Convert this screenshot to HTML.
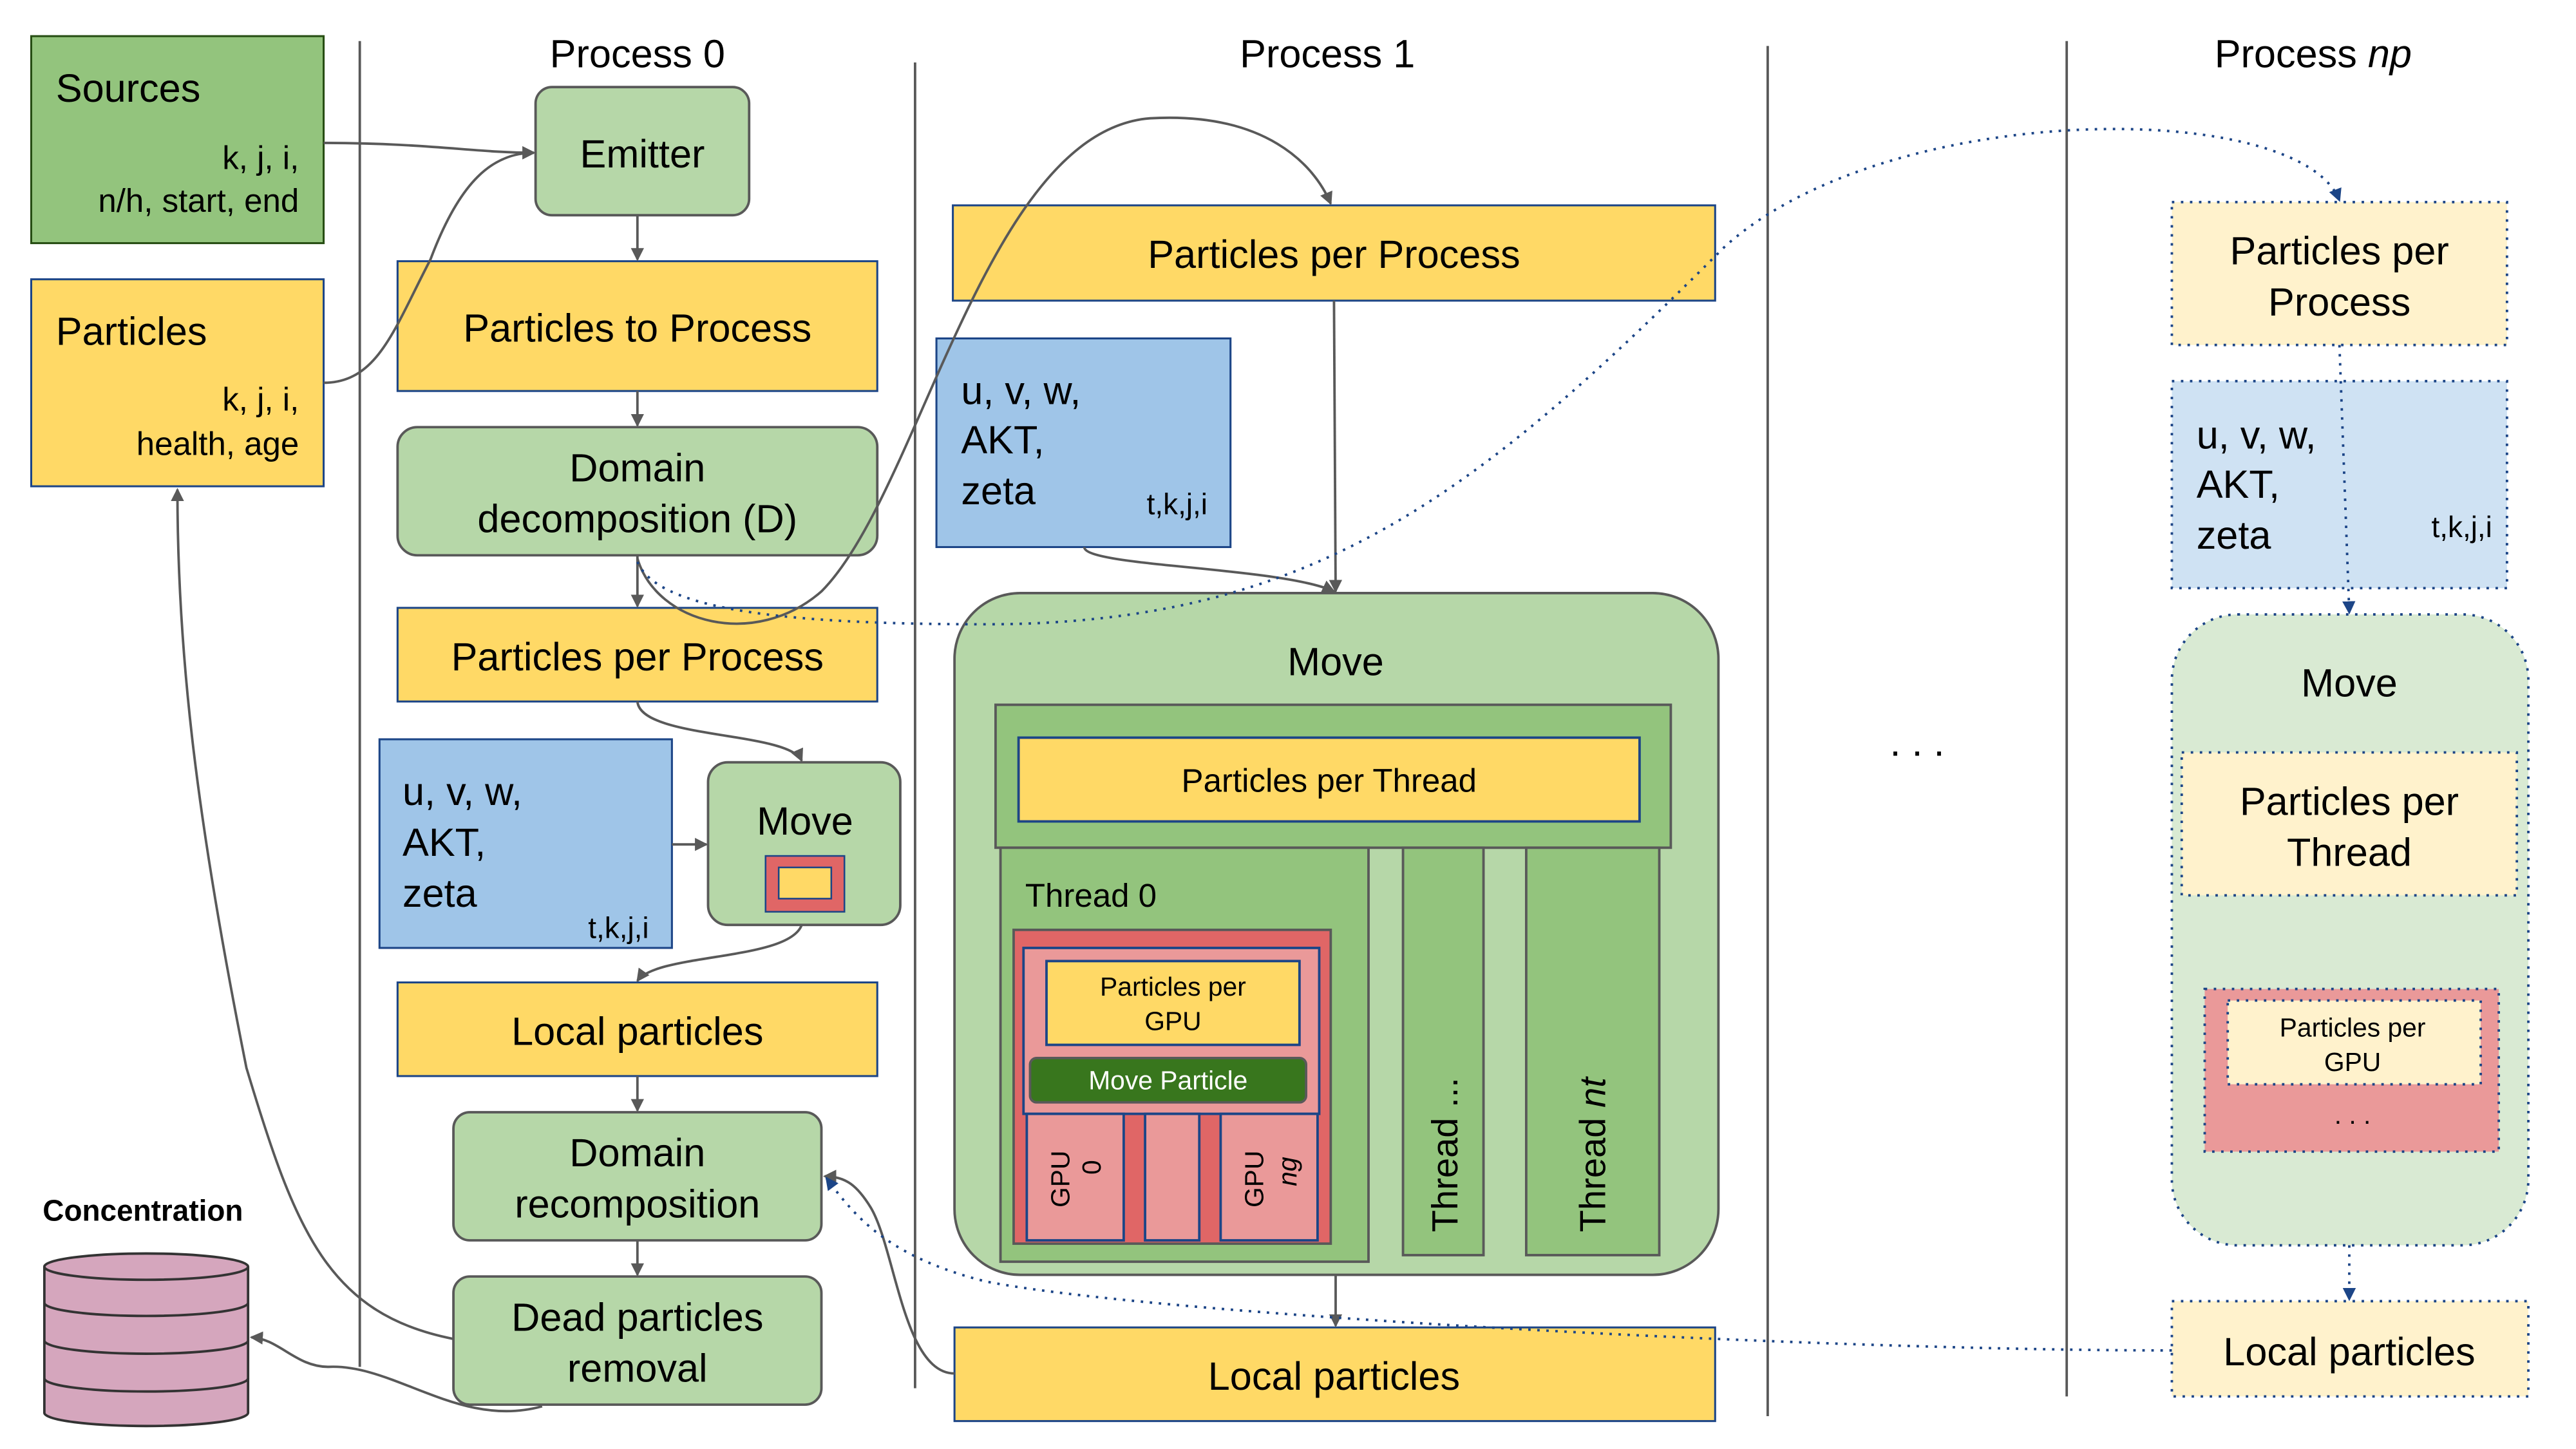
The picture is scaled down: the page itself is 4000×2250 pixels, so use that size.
<!DOCTYPE html>
<html><head><meta charset="utf-8"><style>
html,body{margin:0;padding:0;background:#fff;width:4000px;height:2250px;overflow:hidden}
svg{display:block}
text{font-family:"Liberation Sans",Arial,sans-serif;fill:#000}
</style></head><body>
<svg width="4000" height="2250" viewBox="0 0 1568 882" xmlns="http://www.w3.org/2000/svg">
<defs>
<marker id="a" markerWidth="8" markerHeight="8" refX="7" refY="4" orient="auto" markerUnits="userSpaceOnUse"><path d="M0,0 L8,4 L0,8 z" fill="#595959"/></marker>
<marker id="b" markerWidth="8" markerHeight="8" refX="7" refY="4" orient="auto" markerUnits="userSpaceOnUse"><path d="M0,0 L8,4 L0,8 z" fill="#1c4587"/></marker>
</defs>
<rect width="1568" height="882" fill="#fff"/>
<g stroke="#595959" stroke-width="1.5">
<line x1="219" y1="25" x2="219" y2="832"/>
<line x1="557" y1="38" x2="557" y2="845"/>
<line x1="1076" y1="28" x2="1076" y2="862"/>
<line x1="1258" y1="25" x2="1258" y2="850"/>
</g>
<g font-size="24" text-anchor="middle">
<text x="388" y="41">Process 0</text>
<text x="808" y="41">Process 1</text>
<text x="1408" y="41">Process <tspan font-style="italic">np</tspan></text>
</g>

<rect x="19" y="22" width="178" height="126" fill="#93c47d" stroke="#274e13" stroke-width="1.2"/>
<text x="34" y="62" font-size="24">Sources</text>
<text x="182" y="103" font-size="20" text-anchor="end">k, j, i,</text>
<text x="182" y="129" font-size="20" text-anchor="end">n/h, start, end</text>
<rect x="19" y="170" width="178" height="126" fill="#ffd966" stroke="#1c4587" stroke-width="1.2"/>
<text x="34" y="210" font-size="24">Particles</text>
<text x="182" y="250" font-size="20" text-anchor="end">k, j, i,</text>
<text x="182" y="277" font-size="20" text-anchor="end">health, age</text>

<g stroke="#595959" stroke-width="1.5">
<rect x="326" y="53" width="130" height="78" rx="10" fill="#b6d7a8"/>
<rect x="242" y="260" width="292" height="78" rx="12" fill="#b6d7a8"/>
<rect x="431" y="464" width="117" height="99" rx="12" fill="#b6d7a8"/>
<rect x="276" y="677" width="224" height="78" rx="10" fill="#b6d7a8"/>
<rect x="276" y="777" width="224" height="78" rx="10" fill="#b6d7a8"/>
</g>
<g stroke="#1c4587" stroke-width="1.2" fill="#ffd966">
<rect x="242" y="159" width="292" height="79"/>
<rect x="242" y="370" width="292" height="57"/>
<rect x="242" y="598" width="292" height="57"/>
</g>
<rect x="231" y="450" width="178" height="127" fill="#9fc5e8" stroke="#1c4587" stroke-width="1.2"/>
<rect x="466" y="521" width="48" height="34" fill="#e06666" stroke="#1c4587" stroke-width="1"/>
<rect x="474" y="528" width="32" height="19" fill="#ffd966" stroke="#1c4587" stroke-width="1"/>
<g font-size="24" text-anchor="middle">
<text x="391" y="102">Emitter</text>
<text x="388" y="208">Particles to Process</text>
<text x="388" y="293">Domain</text>
<text x="388" y="324">decomposition (D)</text>
<text x="388" y="408">Particles per Process</text>
<text x="490" y="508">Move</text>
<text x="388" y="636">Local particles</text>
<text x="388" y="710">Domain</text>
<text x="388" y="741">recomposition</text>
<text x="388" y="810">Dead particles</text>
<text x="388" y="841">removal</text>
</g>
<g font-size="24"><text x="245" y="490">u, v, w,</text><text x="245" y="521">AKT,</text><text x="245" y="552">zeta</text></g>
<text x="395" y="571" font-size="18" text-anchor="end">t,k,j,i</text>

<text x="26" y="743" font-size="18" font-weight="bold">Concentration</text>
<g stroke="#333" stroke-width="1.5" fill="#d5a6bd">
<path d="M27,771 L27,860 A62,8 0 0 0 151,860 L151,771"/>
<ellipse cx="89" cy="771" rx="62" ry="8"/>
<path d="M27,793 A62,8 0 0 0 151,793" fill="none"/>
<path d="M27,816 A62,8 0 0 0 151,816" fill="none"/>
<path d="M27,839 A62,8 0 0 0 151,839" fill="none"/>
</g>

<rect x="580" y="125" width="464" height="58" fill="#ffd966" stroke="#1c4587" stroke-width="1.2"/>
<text x="812" y="163" font-size="24" text-anchor="middle">Particles per Process</text>
<rect x="570" y="206" width="179" height="127" fill="#9fc5e8" stroke="#1c4587" stroke-width="1.2"/>
<g font-size="24"><text x="585" y="246">u, v, w,</text><text x="585" y="276">AKT,</text><text x="585" y="307">zeta</text></g>
<text x="735" y="313" font-size="18" text-anchor="end">t,k,j,i</text>

<rect x="581" y="361" width="465" height="415" rx="40" fill="#b6d7a8" stroke="#595959" stroke-width="1.5"/>
<text x="813" y="411" font-size="24" text-anchor="middle">Move</text>
<rect x="606" y="429" width="411" height="87" fill="#93c47d" stroke="#595959" stroke-width="1.5"/>
<rect x="620" y="449" width="378" height="51" fill="#ffd966" stroke="#1c4587" stroke-width="1.5"/>
<text x="809" y="482" font-size="20" text-anchor="middle">Particles per Thread</text>
<rect x="609" y="516" width="224" height="252" fill="#93c47d" stroke="#595959" stroke-width="1.5"/>
<text x="624" y="552" font-size="20">Thread 0</text>
<rect x="854" y="516" width="49" height="248" fill="#93c47d" stroke="#595959" stroke-width="1.5"/>
<rect x="929" y="516" width="81" height="248" fill="#93c47d" stroke="#595959" stroke-width="1.5"/>
<text transform="translate(887,750) rotate(-90)" font-size="22">Thread ...</text>
<text transform="translate(977,750) rotate(-90)" font-size="22">Thread <tspan font-style="italic">nt</tspan></text>

<rect x="617" y="566" width="193" height="191" fill="#e06666" stroke="#595959" stroke-width="1.5"/>
<rect x="623" y="577" width="180" height="101" fill="#ea9999" stroke="#1c4587" stroke-width="1.5"/>
<rect x="637" y="585" width="154" height="51" fill="#ffd966" stroke="#1c4587" stroke-width="1.5"/>
<text x="714" y="606" font-size="16" text-anchor="middle">Particles per</text>
<text x="714" y="627" font-size="16" text-anchor="middle">GPU</text>
<rect x="627" y="644" width="168" height="27" rx="4" fill="#38761d" stroke="#595959" stroke-width="1.5"/>
<text x="711" y="663" font-size="16" text-anchor="middle" style="fill:#fff">Move Particle</text>
<g fill="#ea9999" stroke="#1c4587" stroke-width="1.5">
<rect x="625" y="678" width="59" height="77"/>
<rect x="697" y="678" width="33" height="77"/>
<rect x="743" y="678" width="59" height="77"/>
</g>
<text transform="translate(651,735) rotate(-90)" font-size="16">GPU</text>
<text transform="translate(670,715) rotate(-90)" font-size="16">0</text>
<text transform="translate(769,735) rotate(-90)" font-size="16">GPU</text>
<text transform="translate(789,722) rotate(-90)" font-size="16" font-style="italic">ng</text>

<rect x="581" y="808" width="463" height="57" fill="#ffd966" stroke="#1c4587" stroke-width="1.2"/>
<text x="812" y="846" font-size="24" text-anchor="middle">Local particles</text>

<text x="1167" y="460" font-size="24" text-anchor="middle">. . .</text>

<g stroke="#1c4587" stroke-width="1.5" stroke-dasharray="1.5,4">
<rect x="1322" y="123" width="204" height="87" fill="#fff2cc"/>
<rect x="1322" y="232" width="204" height="126" fill="#cfe2f3"/>
<rect x="1322" y="374" width="217" height="384" rx="40" fill="#d9ead3"/>
<rect x="1328" y="458" width="204" height="87" fill="#fff2cc"/>
<rect x="1342" y="602" width="179" height="99" fill="#ea9999"/>
<rect x="1356" y="609" width="154" height="51" fill="#fff2cc"/>
<rect x="1322" y="792" width="217" height="58" fill="#fff2cc"/>
</g>
<g font-size="24" text-anchor="middle">
<text x="1424" y="161">Particles per</text>
<text x="1424" y="192">Process</text>
<text x="1430" y="424">Move</text>
<text x="1430" y="496">Particles per</text>
<text x="1430" y="527">Thread</text>
<text x="1430" y="831">Local particles</text>
</g>
<g font-size="24"><text x="1337" y="273">u, v, w,</text><text x="1337" y="303">AKT,</text><text x="1337" y="334">zeta</text></g>
<text x="1517" y="327" font-size="18" text-anchor="end">t,k,j,i</text>
<text x="1432" y="631" font-size="16" text-anchor="middle">Particles per</text>
<text x="1432" y="652" font-size="16" text-anchor="middle">GPU</text>
<text x="1432" y="684" font-size="16" text-anchor="middle">. . .</text>

<g stroke="#595959" stroke-width="1.5" fill="none" marker-end="url(#a)">
<path d="M197,87 C260,87 290,93 325,93"/>
<path d="M197,233 C230,233 240,200 262,158 C280,110 300,93 325,93"/>
<path d="M388,131 L388,158"/>
<path d="M388,238 L388,259"/>
<path d="M388,338 L388,369"/>
<path d="M388,340 C400,380 460,395 500,360 C560,300 600,80 700,72 C770,68 800,100 810,124"/>
<path d="M388,427 C390,450 480,445 488,463"/>
<path d="M409,514 L430,514"/>
<path d="M488,563 C480,585 400,580 388,597"/>
<path d="M388,655 L388,676"/>
<path d="M388,755 L388,776"/>
<path d="M330,856 C280,870 240,830 200,832 C180,832 170,815 153,814"/>
<path d="M276,815 C200,800 180,750 150,650 C120,500 108,400 108,298"/>
<path d="M812,183 L813,360"/>
<path d="M660,333 C660,345 780,345 812,360"/>
<path d="M813,776 L813,807"/>
<path d="M581,836 C550,836 545,760 530,735 C522,722 515,716 502,716"/>
</g>
<g stroke="#1c4587" stroke-width="1.5" fill="none" stroke-dasharray="1.5,4" marker-end="url(#b)">
<path d="M388,342 C400,370 470,380 600,380 C800,380 900,300 1050,150 C1150,60 1400,60 1424,122"/>
<path d="M1322,822 C1100,822 700,800 600,780 C540,765 520,740 503,717"/>
<path d="M1424,210 L1430,373"/>
<path d="M1430,758 L1430,791"/>
</g>
</svg>
</body></html>
